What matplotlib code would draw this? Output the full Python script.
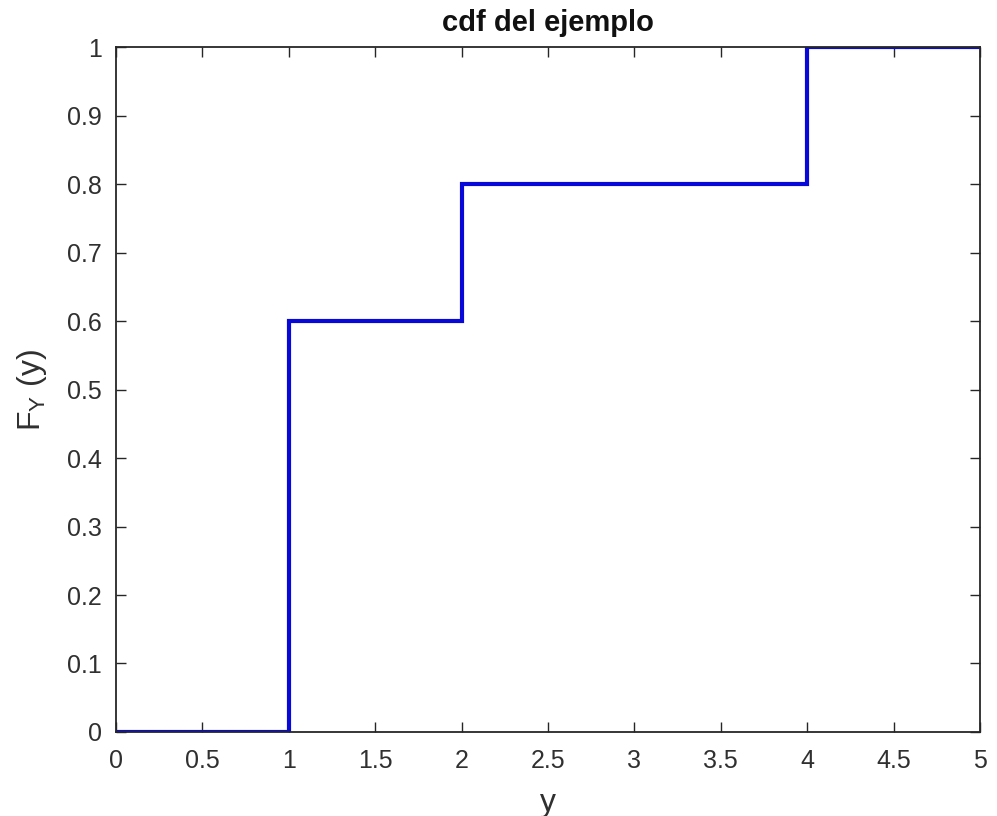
import numpy as np
import matplotlib
matplotlib.use('Agg')
import matplotlib.pyplot as plt

# step points of the cdf
y_vals = [0, 1, 2, 4, 5]
F_vals = [0, 0.6, 0.8, 1, 1]
x_ticks = [0, 0.5, 1, 1.5, 2, 2.5, 3, 3.5, 4, 4.5, 5]
y_ticks = [0, 0.1, 0.2, 0.3, 0.4, 0.5, 0.6, 0.7, 0.8, 0.9, 1]

plt.rcParams['font.family'] = ['Liberation Sans', 'DejaVu Sans']
plt.rcParams['mathtext.default'] = 'regular'
txt = '#303030'
axc = '#262626'

fig = plt.figure(figsize=(9.97, 8.16), dpi=100)
ax = fig.add_axes([0.1164, 0.103, 0.8666, 0.839])

# cdf: value jumps at each y
ax.step(y_vals, F_vals, where='post', color='#0808d8', linewidth=3.0, solid_joinstyle='miter')

ax.set_xlim(0, 5)
ax.set_ylim(0, 1)
ax.set_xticks(x_ticks)
ax.set_yticks(y_ticks)
ax.set_xticklabels([('%g' % t) for t in x_ticks])
ax.set_yticklabels([('%g' % t) for t in y_ticks])
ax.tick_params(direction='in', length=7, width=1, colors=axc, labelcolor=txt,
               labelsize=18, top=True, right=True)
ax.tick_params(axis='x', pad=12)
ax.tick_params(axis='y', pad=10)
for s in ax.spines.values():
    s.set_color(axc)
    s.set_linewidth(1.3)

ax.set_title('cdf del ejemplo', fontsize=21, fontweight='bold', color='#111111', pad=12)
ax.set_xlabel('y', fontsize=23, color=txt, labelpad=11)
ax.set_ylabel('F$_Y$ (y)', fontsize=23, color=txt, labelpad=13)

plt.savefig('out.png', dpi=100)
